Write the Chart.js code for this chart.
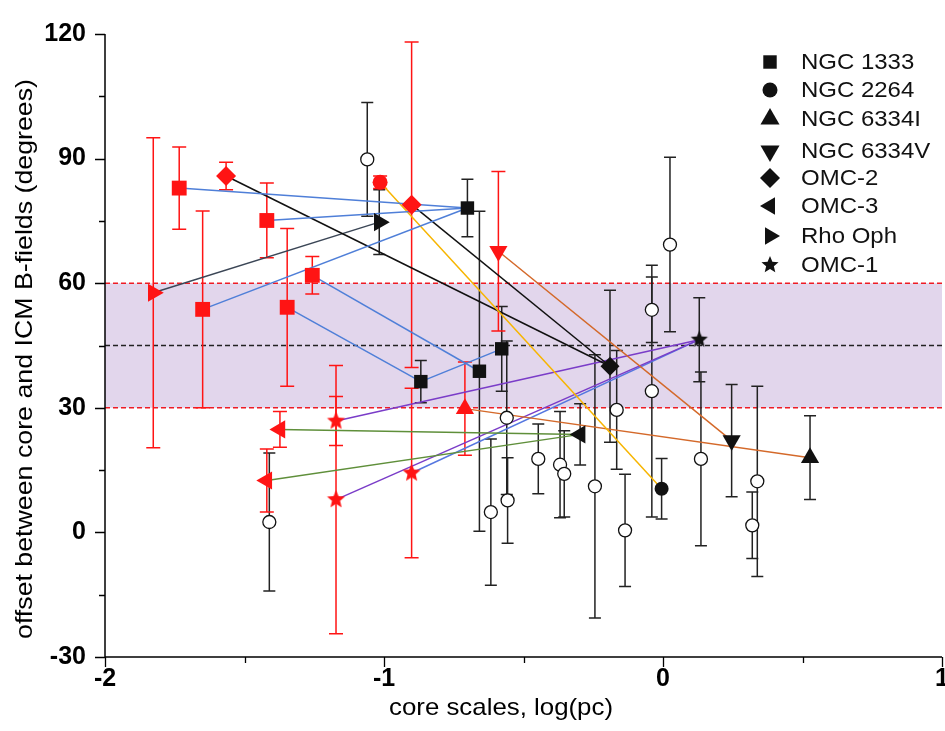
<!DOCTYPE html>
<html>
<head>
<meta charset="utf-8">
<script src="https://cdn.jsdelivr.net/npm/chart.js@4.4.0/dist/chart.umd.min.js"></script>
<style>
  html, body { margin: 0; padding: 0; background: #fff; }
</style>
</head>
<body>
<canvas id="offsetChart" width="945" height="731"></canvas>
<script>
// each point: [log(pc), offset (deg), error (deg)]
const ngc1333Small = [[-1.734, 82.9, 9.9], [-1.420, 75.1, 9.0], [-1.650, 53.7, 23.7], [-1.347, 54.2, 19.0], [-1.257, 61.9, 4.5]];
const ngc1333Large = [[-0.701, 78.1, 6.9], [-0.868, 36.3, 5.1], [-0.658, 38.8, 38.5], [-0.578, 44.2, 10.2]];
const ngc2264Small = [[-1.014, 84.3, 1.5]];
const ngc2264Large = [[-0.005, 10.5, 7.3]];
const ngc6334ISmall = [[-0.710, 29.8, 11.2]];
const ngc6334ILarge = [[0.527, 18.0, 10.1]];
const ngc6334VSmall = [[-0.590, 67.7, 19.2]];
const ngc6334VLarge = [[0.246, 22.1, 13.5]];
const omc2Small = [[-1.566, 85.8, 3.3], [-0.901, 78.9, 39.2]];
const omc2Large = [[-0.190, 40.0, 18.3]];
const omc3Small = [[-1.373, 24.8, 4.3], [-1.420, 12.5, 7.6]];
const omc3Large = [[-0.297, 23.6, 7.4]];
const rhoOphSmall = [[-1.827, 57.7, 37.3]];
const rhoOphLarge = [[-1.017, 74.7, 7.8]];
const omc1Small = [[-1.172, 26.8, 5.9], [-1.172, 7.9, 32.3], [-0.901, 14.3, 20.4]];
const omc1Large = [[0.130, 46.4, 10.1]];
const otherCores = [
  [-1.060, 89.8, 13.7], [-1.411, 2.5, 16.6], [-0.560, 27.6, 18.5], [-0.557, 7.7, 10.3],
  [-0.617, 4.9, 17.6], [-0.447, 17.7, 8.4], [-0.369, 16.3, 12.8], [-0.354, 14.1, 10.4],
  [-0.244, 11.1, 31.7], [-0.166, 29.5, 14.3], [-0.136, 0.5, 13.5], [-0.040, 53.6, 7.9],
  [-0.040, 34.0, 30.3], [0.025, 69.3, 21.0], [0.136, 17.7, 20.9], [0.338, 12.3, 22.9],
  [0.320, 1.7, 8.0]
];

const bandRange = [30, 60];
const bandMiddle = 45;
const xTicks = [-2, -1, 0, 1];
const yTicks = [-30, 0, 30, 60, 90, 120];
const legendLabels = ['NGC 1333', 'NGC 2264', 'NGC 6334I', 'NGC 6334V', 'OMC-2', 'OMC-3', 'Rho Oph', 'OMC-1'];

const RED = '#ff1414';
const INK = '#111111';
const FONT = '"Liberation Sans", Arial, sans-serif';

function starImage(color, r) {
    const c = document.createElement('canvas');
    const s = Math.ceil(r * 2 + 2);
    c.width = s;
    c.height = s;
    const g = c.getContext('2d');
    g.fillStyle = color;
    g.beginPath();
    for (let i = 0; i < 10; i++) {
        const rr = i % 2 ? r * 0.45 : r;
        const a = -Math.PI / 2 + i * Math.PI / 5;
        g.lineTo(s / 2 + rr * Math.cos(a), s / 2 + rr * Math.sin(a));
    }
    g.closePath();
    g.fill();
    return c;
}

const redStar = starImage(RED, 9.5);
const blackStar = starImage(INK, 9);
const legendStar = starImage(INK, 9);

// which cores are tied to which clumps, and line colour
const links = [
    [ngc1333Small[0], ngc1333Large[0], '#4f7fd8'],
    [ngc1333Small[1], ngc1333Large[0], '#4f7fd8'],
    [ngc1333Small[2], ngc1333Large[0], '#4f7fd8'],
    [ngc1333Small[3], ngc1333Large[1], '#4f7fd8'],
    [ngc1333Small[4], ngc1333Large[2], '#4f7fd8'],
    [ngc1333Large[1], ngc1333Large[3], '#4f7fd8'],
    [ngc2264Small[0], ngc2264Large[0], '#f7b500'],
    [ngc6334ISmall[0], ngc6334ILarge[0], '#d4692a'],
    [ngc6334VSmall[0], ngc6334VLarge[0], '#d4692a'],
    [omc2Small[0], omc2Large[0], INK],
    [omc2Small[1], omc2Large[0], INK],
    [omc3Small[0], omc3Large[0], '#5f8f3a'],
    [omc3Small[1], omc3Large[0], '#5f8f3a'],
    [rhoOphSmall[0], rhoOphLarge[0], '#3b4656'],
    [omc1Small[0], omc1Large[0], '#7a3cc8'],
    [omc1Small[1], omc1Large[0], '#7a3cc8'],
    [omc1Small[2], omc1Large[0], '#5577e0']
];

const markerSets = [
    { pts: otherCores, style: 'circle', r: 6.5, fill: '#ffffff', line: INK, bw: 1.3 },
    { pts: ngc1333Large, style: 'rect', r: 9.5, fill: INK },
    { pts: ngc2264Large, style: 'circle', r: 7, fill: INK },
    { pts: ngc6334ILarge, style: 'triangle', r: 10.5, fill: INK },
    { pts: ngc6334VLarge, style: 'triangle', r: 10.5, fill: INK, rot: 180 },
    { pts: omc2Large, style: 'rectRot', r: 9.5, fill: INK },
    { pts: omc3Large, style: 'triangle', r: 10.5, fill: INK, rot: -90 },
    { pts: rhoOphLarge, style: 'triangle', r: 10.5, fill: INK, rot: 90 },
    { pts: omc1Large, style: blackStar, r: 9, fill: INK },
    { pts: ngc1333Small, style: 'rect', r: 10.5, fill: RED },
    { pts: ngc2264Small, style: 'circle', r: 7.5, fill: RED },
    { pts: ngc6334ISmall, style: 'triangle', r: 10.5, fill: RED },
    { pts: ngc6334VSmall, style: 'triangle', r: 10.5, fill: RED, rot: 180 },
    { pts: omc2Small, style: 'rectRot', r: 10, fill: RED },
    { pts: omc3Small, style: 'triangle', r: 10.5, fill: RED, rot: -90 },
    { pts: rhoOphSmall, style: 'triangle', r: 10.5, fill: RED, rot: 90 },
    { pts: omc1Small, style: redStar, r: 9.5, fill: RED }
];

const datasets = [];
links.forEach(l => {
    datasets.push({
        type: 'line',
        data: [{ x: l[0][0], y: l[0][1] }, { x: l[1][0], y: l[1][1] }],
        borderColor: l[2],
        borderWidth: 1.5,
        pointRadius: 0,
        fill: false,
        order: 20
    });
});
markerSets.forEach((m, i) => {
    datasets.push({
        type: 'scatter',
        data: m.pts.map(p => ({ x: p[0], y: p[1] })),
        pointStyle: m.style,
        pointRadius: m.r,
        pointRotation: m.rot || 0,
        backgroundColor: m.fill,
        borderColor: m.line || m.fill,
        borderWidth: m.bw || 0,
        order: 10 - i / 100
    });
});

// text squeezed/stretched to the width it has in the original
function stretchText(ctx, text, x, y, width) {
    const w = ctx.measureText(text).width;
    ctx.save();
    ctx.translate(x, y);
    ctx.scale(width / w, 1);
    ctx.fillText(text, 0, 0);
    ctx.restore();
}

// band, reference lines, error bars, axes, titles, legend
const decorations = {
    id: 'decorations',
    beforeDatasetsDraw(chart) {
        const { ctx, chartArea: a, scales: { x, y } } = chart;
        ctx.save();
        const yTop = y.getPixelForValue(bandRange[1]);
        const yBot = y.getPixelForValue(bandRange[0]);
        ctx.fillStyle = '#e2d6ec';
        ctx.fillRect(a.left, yTop, a.right - a.left, yBot - yTop);

        ctx.lineWidth = 1.4;
        ctx.setLineDash([5, 3]);
        ctx.strokeStyle = '#ee1c25';
        [yTop, yBot].forEach(py => {
            ctx.beginPath();
            ctx.moveTo(a.left, py);
            ctx.lineTo(a.right, py);
            ctx.stroke();
        });
        ctx.strokeStyle = '#222';
        const yMid = y.getPixelForValue(bandMiddle);
        ctx.beginPath();
        ctx.moveTo(a.left, yMid);
        ctx.lineTo(a.right, yMid);
        ctx.stroke();
        ctx.setLineDash([]);

        markerSets.forEach(m => {
            const col = m.fill === RED ? RED : '#222';
            ctx.strokeStyle = col;
            ctx.lineWidth = 1.5;
            m.pts.forEach(p => {
                const px = x.getPixelForValue(p[0]);
                const y1 = y.getPixelForValue(p[1] + p[2]);
                const y2 = y.getPixelForValue(p[1] - p[2]);
                const cw = m.fill === RED ? 7 : 6;
                ctx.beginPath();
                ctx.moveTo(px, y1);
                ctx.lineTo(px, y2);
                ctx.moveTo(px - cw, y1);
                ctx.lineTo(px + cw, y1);
                ctx.moveTo(px - cw, y2);
                ctx.lineTo(px + cw, y2);
                ctx.stroke();
            });
        });
        ctx.restore();
    },
    afterDraw(chart) {
        const { ctx, chartArea: a, scales: { x, y } } = chart;
        ctx.save();
        ctx.strokeStyle = '#000';
        ctx.lineWidth = 1.5;
        ctx.beginPath();
        ctx.moveTo(a.left, a.top);
        ctx.lineTo(a.left, a.bottom);
        ctx.lineTo(a.right, a.bottom);
        ctx.stroke();

        ctx.lineWidth = 1.3;
        ctx.beginPath();
        for (let v = -30; v <= 120; v += 15) {
            const py = Math.round(y.getPixelForValue(v)) + 0.5;
            const len = v % 30 === 0 ? 10 : 6;
            ctx.moveTo(a.left - len, py);
            ctx.lineTo(a.left, py);
        }
        for (let v = -2; v <= 1; v += 0.5) {
            const px = Math.round(x.getPixelForValue(v)) + 0.5;
            const len = Number.isInteger(v) ? 10 : 6;
            ctx.moveTo(px, a.bottom);
            ctx.lineTo(px, a.bottom + len);
        }
        ctx.stroke();

        ctx.fillStyle = '#000';
        ctx.font = '24px ' + FONT;
        ctx.textAlign = 'center';
        ctx.textBaseline = 'middle';
        stretchText(ctx, 'core scales, log(pc)', 501, 708, 224);
        ctx.translate(25, 359);
        ctx.rotate(-Math.PI / 2);
        stretchText(ctx, 'offset between core and ICM B-fields (degrees)', 0, 0, 560);
        ctx.restore();

        // legend
        const rows = [62, 90, 119, 151, 178, 206, 236, 265];
        const styles = [
            { pointStyle: 'rect', radius: 9.5 },
            { pointStyle: 'circle', radius: 7.5 },
            { pointStyle: 'triangle', radius: 11 },
            { pointStyle: 'triangle', radius: 11, rotation: 180 },
            { pointStyle: 'rectRot', radius: 10 },
            { pointStyle: 'triangle', radius: 10, rotation: -90 },
            { pointStyle: 'triangle', radius: 10, rotation: 90 },
            { pointStyle: legendStar, radius: 9 }
        ];
        ctx.save();
        ctx.fillStyle = INK;
        ctx.strokeStyle = INK;
        ctx.font = '22px ' + FONT;
        ctx.textAlign = 'left';
        ctx.textBaseline = 'middle';
        legendLabels.forEach((label, i) => {
            const s = styles[i];
            Chart.helpers.drawPoint(ctx, { pointStyle: s.pointStyle, radius: s.radius, rotation: s.rotation || 0, borderWidth: 0 }, 770, rows[i]);
            ctx.fillStyle = INK;
            const w = ctx.measureText(label).width;
            stretchText(ctx, label, 801, rows[i] + 1, w * 1.09);
        });
        ctx.restore();
    }
};

const tickFont = { family: FONT, size: 25, weight: 'bold' };

new Chart(document.getElementById('offsetChart'), {
    type: 'scatter',
    data: { datasets: datasets },
    options: {
        responsive: false,
        animation: false,
        devicePixelRatio: 1,
        layout: { autoPadding: false, padding: { top: 34, right: 3, left: 0, bottom: 0 } },
        plugins: {
            legend: { display: false },
            tooltip: { enabled: false }
        },
        scales: {
            x: {
                type: 'linear',
                min: xTicks[0],
                max: xTicks[xTicks.length - 1],
                afterBuildTicks(s) { s.ticks = xTicks.map(v => ({ value: v })); },
                ticks: { color: '#000', font: tickFont, padding: 7, maxRotation: 0 },
                grid: { display: false, drawTicks: false },
                border: { display: false },
                afterFit(s) { s.height = 74; s.paddingLeft = 0; s.paddingRight = 0; }
            },
            y: {
                type: 'linear',
                min: yTicks[0],
                max: yTicks[yTicks.length - 1],
                afterBuildTicks(s) { s.ticks = yTicks.map(v => ({ value: v })); },
                ticks: { color: '#000', font: tickFont, padding: 19 },
                grid: { display: false, drawTicks: false },
                border: { display: false },
                afterFit(s) { s.width = 105; s.paddingTop = 0; s.paddingBottom = 0; }
            }
        }
    },
    plugins: [decorations]
});
</script>
</body>
</html>
